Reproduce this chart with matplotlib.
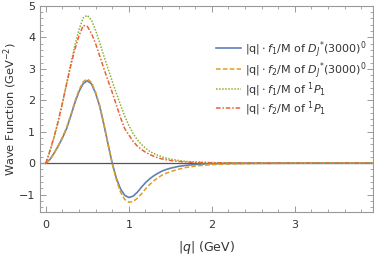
import matplotlib
matplotlib.use("Agg")
import matplotlib.pyplot as plt
from matplotlib.ticker import MultipleLocator

q = [0, 0.05, 0.1, 0.15, 0.2, 0.25, 0.3, 0.35, 0.4, 0.45, 0.5, 0.55, 0.6, 0.65, 0.7,
     0.75, 0.8, 0.85, 0.9, 0.95, 1.0, 1.05, 1.1, 1.15, 1.2, 1.25, 1.3, 1.35, 1.4, 1.45,
     1.5, 1.6, 1.7, 1.8, 1.9, 2.0, 2.2, 2.5, 3.0, 3.5, 3.95]

dj_f1 = [0, 0.12, 0.32, 0.55, 0.80, 1.10, 1.50, 1.92, 2.28, 2.53, 2.62, 2.52, 2.22, 1.80, 1.22,
         0.60, 0.0, -0.48, -0.82, -1.02, -1.09, -1.05, -0.93, -0.77, -0.62, -0.50, -0.40, -0.32, -0.25, -0.20,
         -0.16, -0.10, -0.065, -0.04, -0.025, -0.015, -0.006, -0.002, 0.0, 0.0, 0.0]

dj_f2 = [0, 0.12, 0.32, 0.56, 0.82, 1.13, 1.53, 1.96, 2.33, 2.59, 2.68, 2.57, 2.25, 1.82, 1.24,
         0.60, -0.02, -0.53, -0.92, -1.15, -1.24, -1.22, -1.12, -0.98, -0.82, -0.68, -0.56, -0.46, -0.38, -0.32,
         -0.27, -0.19, -0.13, -0.09, -0.065, -0.045, -0.025, -0.01, -0.003, -0.001, 0.0]

p1_f1 = [0, 0.38, 0.82, 1.32, 1.90, 2.52, 3.15, 3.75, 4.25, 4.62, 4.70, 4.55, 4.22, 3.82, 3.40,
         3.00, 2.60, 2.22, 1.85, 1.50, 1.20, 0.95, 0.75, 0.60, 0.48, 0.38, 0.31, 0.25, 0.20, 0.16,
         0.13, 0.085, 0.055, 0.04, 0.028, 0.02, 0.01, 0.004, 0.001, 0.0, 0.0]

p1_f2 = [0, 0.40, 0.85, 1.35, 1.92, 2.52, 3.10, 3.62, 4.05, 4.38, 4.35, 4.12, 3.80, 3.40, 3.00,
         2.62, 2.25, 1.85, 1.45, 1.10, 0.90, 0.70, 0.55, 0.44, 0.35, 0.28, 0.22, 0.17, 0.135, 0.11,
         0.085, 0.055, 0.035, 0.025, 0.017, 0.012, 0.006, 0.002, 0.0, 0.0, 0.0]

labels = [r"$|\mathrm{q}|\cdot f_1/\mathrm{M}$ of $D_J{}^{*}(3000)^0$",
          r"$|\mathrm{q}|\cdot f_2/\mathrm{M}$ of $D_J{}^{*}(3000)^0$",
          r"$|\mathrm{q}|\cdot f_1/\mathrm{M}$ of ${}^1P_1$",
          r"$|\mathrm{q}|\cdot f_2/\mathrm{M}$ of ${}^1P_1$"]

plt.rcParams['font.family'] = ['DejaVu Sans']
plt.rcParams['mathtext.fontset'] = 'dejavusans'

fig = plt.figure(figsize=(3.74, 2.56), dpi=100)
ax = fig.add_axes([0.107, 0.172, 0.89, 0.805])

ax.axhline(0, color='#555555', lw=0.9, zorder=1)
ax.plot(q, dj_f1, color='#5E81B5', lw=1.2, ls='-', label=labels[0])
ax.plot(q, dj_f2, color='#E19C24', lw=1.1, ls=(0, (3, 1.5)), label=labels[1])
ax.plot(q, p1_f1, color='#8FB032', lw=1.1, ls=(0, (1, 1)), label=labels[2])
ax.plot(q, p1_f2, color='#EB6235', lw=1.1, ls=(0, (3, 1.2, 1, 1.2)), label=labels[3])

ax.set_xlim(-0.07, 3.94)
ax.set_ylim(-1.55, 5.0)
ax.xaxis.set_major_locator(MultipleLocator(1))
ax.xaxis.set_minor_locator(MultipleLocator(0.2))
ax.yaxis.set_major_locator(MultipleLocator(1))
ax.yaxis.set_minor_locator(MultipleLocator(0.2))
ax.set_yticks([-1, 0, 1, 2, 3, 4, 5])
ax.set_yticklabels(['\u22121', '0', '1', '2', '3', '4', '5'])

for s in ax.spines.values():
    s.set_color('#999999')
    s.set_linewidth(0.8)
ax.tick_params(which='both', direction='in', top=True, right=True, color='#999999',
               labelcolor='#333333', labelsize=8)
ax.tick_params(which='major', length=4, width=0.7)
ax.tick_params(which='minor', length=2, width=0.6)
ax.tick_params(axis='x', pad=6)

ax.set_xlabel(r"$|q|$ (GeV)", fontsize=9, color='#333333', labelpad=6)
ax.set_ylabel(r"Wave Function (GeV$^{-2}$)", fontsize=8.2, color='#333333', labelpad=0)

leg = ax.legend(loc='upper right', bbox_to_anchor=(1.012, 0.89), frameon=False, fontsize=8,
                handlelength=2.2, handletextpad=0.4, labelspacing=0.0)
for t in leg.get_texts():
    t.set_color('#333333')

fig.savefig('out.png', dpi=100)
